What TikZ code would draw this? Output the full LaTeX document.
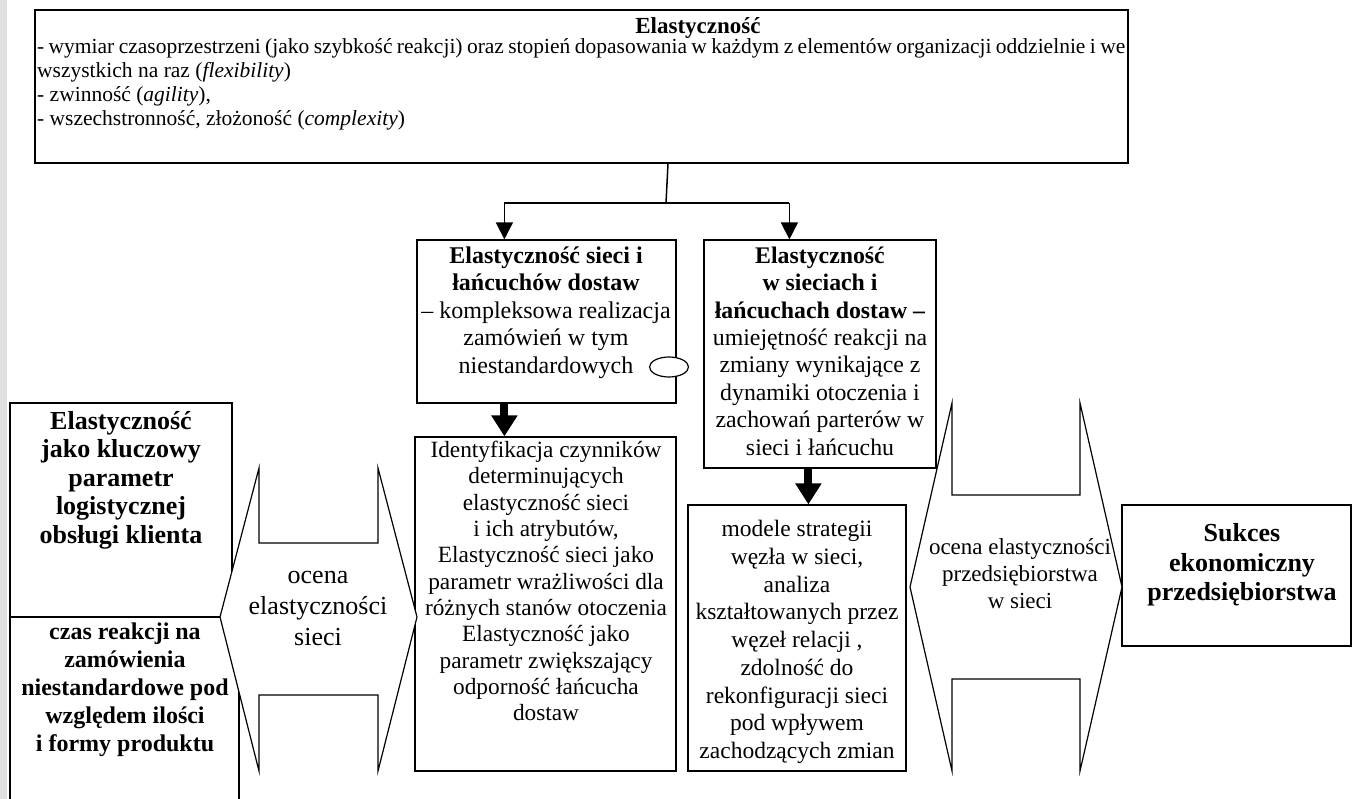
\documentclass[tikz,border=0pt]{standalone}
\usepackage{fontspec}
\setmainfont{Liberation Serif}
\usetikzlibrary{arrows.meta,calc,shapes.geometric}
\newcommand\myfs[2]{\fontsize{#1}{#2}\selectfont}
\definecolor{strip}{RGB}{224,224,224}
\begin{document}
\begin{tikzpicture}[x=1pt,y=-1pt,
  box/.style={draw, line width=1.2pt, inner sep=0pt},
  txt/.style={inner sep=0pt, align=center, anchor=north},
  conn/.style={line width=1.5pt},
  arr/.style={line width=1.5pt, -{Triangle[length=17pt,width=17pt]}},
  bigarr/.style={line width=8pt, -{Triangle[length=21pt,width=25pt]}},
  hexa/.style={draw, line width=1.2pt, fill=white, line join=miter}]
\fill[white] (0,0) rectangle (1354,799);
\useasboundingbox (0,0) rectangle (1354,799);
\fill[strip] (0,0) rectangle (7,799);

% top box
\node[box, minimum width=1093pt, minimum height=153pt] (top) at (581.5,86.5) {};
\node[txt, font=\bfseries\myfs{23}{25}] (ttl) at (698,16) {\strut Elastyczność};
\node[inner sep=0pt, anchor=north west, align=left, font=\myfs{21.5}{24}] (tlines) at (37,37) {\strut\makebox[1088pt][s]{- wymiar czasoprzestrzeni (jako szybkość reakcji) oraz stopień dopasowania w każdym z elementów organizacji oddzielnie i we}\\
wszystkich na raz (\textit{flexibility})\\
- zwinność (\textit{agility}),\\
- wszechstronność, złożoność (\textit{complexity})};

% boxes
\node[box, minimum width=259pt, minimum height=163pt] (A) at (546.5,321.5) {};
\node[box, minimum width=232pt, minimum height=228pt] (B) at (820,354) {};
\node[box, minimum width=261pt, minimum height=334pt] (C) at (545.5,604) {};
\node[box, minimum width=218pt, minimum height=266pt] (D) at (797,638) {};
\node[box, minimum width=222pt, minimum height=214pt] (L1) at (121,510) {};
\node[box, minimum width=229pt, minimum height=200pt] (L2) at (124.5,717) {};
\node[box, minimum width=229pt, minimum height=141pt] (S) at (1236.5,575.5) {};

% texts in boxes
\node[txt, font=\myfs{24}{27.5}] (tA) at (546,244) {\strut\textbf{Elastyczność sieci i}\\\textbf{łańcuchów dostaw}\\– kompleksowa realizacja\\zamówień w tym\\niestandardowych};
\node[txt, font=\myfs{23.8}{27.4}] (tB) at (820,244) {\strut\textbf{Elastyczność}\\\textbf{w sieciach i}\\\textbf{łańcuchach dostaw –}\\umiejętność reakcji na\\zmiany wynikające z\\dynamiki otoczenia i\\zachowań parterów w\\sieci i łańcuchu};
\node[txt, font=\myfs{23.3}{26.3}] (tC) at (546,439) {\strut Identyfikacja czynników\\determinujących\\elastyczność sieci\\i ich atrybutów,\\Elastyczność sieci jako\\parametr wrażliwości dla\\różnych stanów otoczenia\\Elastyczność jako\\parametr zwiększający\\odporność łańcucha\\dostaw};
\node[txt, font=\myfs{23.5}{27.75}] (tD) at (797,517) {\strut modele strategii\\węzła w sieci,\\analiza\\kształtowanych przez\\węzeł relacji ,\\zdolność do\\rekonfiguracji sieci\\pod wpływem\\zachodzących zmian};
\node[txt, font=\bfseries\myfs{26}{28.5}] (tL1) at (121,409) {\strut Elastyczność\\jako kluczowy\\parametr\\logistycznej\\obsługi klienta};
\node[txt, font=\bfseries\myfs{24}{28}] (tL2) at (125,620) {\strut czas reakcji na\\zamówienia\\niestandardowe pod\\względem ilości\\i formy produktu};
\node[txt, font=\bfseries\myfs{26}{29.5}] (tS) at (1242,521) {\strut Sukces\\ekonomiczny\\przedsiębiorstwa};

% ellipse on box A
\node[draw, ellipse, fill=white, line width=1.2pt, minimum width=39pt, minimum height=20pt, inner sep=0pt] (ell) at (669,367) {};

% double arrows (hexagons)
\draw[hexa] (259,468) -- (259,543) -- (378,543) -- (378,468) -- (417,617) -- (378,771) -- (378,695) -- (259,695) -- (259,771) -- (220,617) -- cycle;
\node[txt, font=\myfs{26}{31}] (hL) at (318,562) {\strut ocena\\elastyczności\\sieci};
\draw[hexa] (952,403) -- (952,495) -- (1080,495) -- (1080,403) -- (1122,587) -- (1080,771) -- (1080,679) -- (952,679) -- (952,771) -- (910,587) -- cycle;
\node[txt, font=\myfs{23}{27}] (hR) at (1020,535) {\strut ocena elastyczności\\przedsiębiorstwa\\w sieci};

% connectors
\coordinate (tj) at ($(top.south)+(86.5,0)$);
\coordinate (j) at (666,203);
\coordinate (aA) at ($(A.north west)+(88,0)$);
\coordinate (aB) at ($(B.north west)+(86,0)$);
\coordinate (bB) at ($(B.south west)+(105,0)$);
\draw[conn] (tj) -- (j);
\draw[conn] (aA |- j) -- (aB |- j);
\draw[arr] (aA |- j) -- (aA);
\draw[arr] (aB |- j) -- (aB);
\draw[bigarr] (aA |- A.south) -- (aA |- C.north);
\draw[bigarr] (bB) -- (bB |- D.north);
\end{tikzpicture}
\end{document}
